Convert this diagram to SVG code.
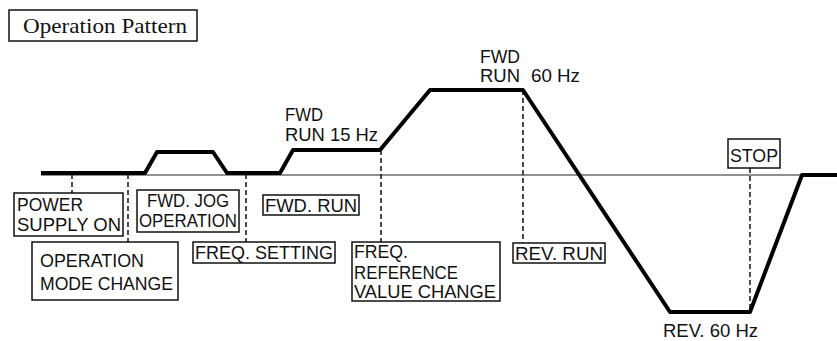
<svg xmlns="http://www.w3.org/2000/svg" width="837" height="341" viewBox="0 0 837 341">
<style>
.box{fill:#fff;stroke:#111;stroke-width:1.5}
.t{font-family:"Liberation Sans",Arial,sans-serif;font-size:19px;fill:#111}
.dash{stroke:#111;stroke-width:1.5;stroke-dasharray:5,3;fill:none}
.curve{stroke:#000;stroke-width:4;fill:none;stroke-linejoin:round}
.axis{stroke:#222;stroke-width:1.2}
</style>
<rect width="837" height="341" fill="#fff"/>
<g id="title">
<rect class="box" x="9" y="10" width="188" height="31"/>
<text x="23" y="33" font-family="'Liberation Serif','Times New Roman',serif" font-size="22" fill="#111" textLength="164" lengthAdjust="spacingAndGlyphs">Operation Pattern</text>
</g>
<g id="connectors">
<line class="axis" x1="41" y1="175" x2="837" y2="175"/>
<line class="dash" x1="72" y1="174" x2="72" y2="193"/>
<line class="dash" x1="128" y1="174" x2="128" y2="242"/>
<line class="dash" x1="246" y1="174" x2="246" y2="242"/>
<line class="dash" x1="381" y1="150" x2="381" y2="242"/>
<line class="dash" x1="523" y1="90" x2="523" y2="243"/>
<line class="dash" x1="750" y1="168" x2="750" y2="312"/>
<polyline class="curve" points="41,173 145,173 157,152 213,152 227,173 280,173 293,150 380,150 430,90 523,90 670,312 750,312 802,175 837,175"/>
</g>
<g id="power-supply-on">
<rect class="box" x="14" y="193" width="109" height="43"/>
<text class="t" x="17" y="211" textLength="66" lengthAdjust="spacingAndGlyphs">POWER</text>
<text class="t" x="17" y="231" textLength="104" lengthAdjust="spacingAndGlyphs">SUPPLY ON</text>
</g>
<g id="operation-mode-change">
<rect class="box" x="32" y="242" width="146" height="58"/>
<text class="t" x="40" y="267" textLength="104" lengthAdjust="spacingAndGlyphs">OPERATION</text>
<text class="t" x="40" y="290" textLength="133" lengthAdjust="spacingAndGlyphs">MODE CHANGE</text>
</g>
<g id="fwd-jog-operation">
<rect class="box" x="137" y="190" width="102" height="42"/>
<text class="t" x="147" y="207" textLength="82" lengthAdjust="spacingAndGlyphs">FWD. JOG</text>
<text class="t" x="139" y="227" textLength="98" lengthAdjust="spacingAndGlyphs">OPERATION</text>
</g>
<g id="freq-setting">
<rect class="box" x="193" y="242" width="142" height="21"/>
<text class="t" x="195" y="259" textLength="138" lengthAdjust="spacingAndGlyphs">FREQ. SETTING</text>
</g>
<g id="fwd-run">
<rect class="box" x="263" y="195" width="96" height="20"/>
<text class="t" x="265" y="212" textLength="92" lengthAdjust="spacingAndGlyphs">FWD. RUN</text>
</g>
<g id="fwd-run-15">
<text class="t" x="285" y="121" textLength="38" lengthAdjust="spacingAndGlyphs">FWD</text>
<text class="t" x="285" y="141" textLength="93" lengthAdjust="spacingAndGlyphs">RUN 15 Hz</text>
</g>
<g id="freq-reference-value-change">
<rect class="box" x="352" y="242" width="148" height="59"/>
<text class="t" x="354" y="258" textLength="54" lengthAdjust="spacingAndGlyphs">FREQ.</text>
<text class="t" x="354" y="279" textLength="104" lengthAdjust="spacingAndGlyphs">REFERENCE</text>
<text class="t" x="354" y="298" textLength="142" lengthAdjust="spacingAndGlyphs">VALUE CHANGE</text>
</g>
<g id="fwd-run-60">
<text class="t" x="480" y="63" textLength="40" lengthAdjust="spacingAndGlyphs">FWD</text>
<text class="t" x="480" y="82" textLength="40" lengthAdjust="spacingAndGlyphs">RUN</text>
<text class="t" x="531" y="82" textLength="49" lengthAdjust="spacingAndGlyphs">60 Hz</text>
</g>
<g id="rev-run">
<rect class="box" x="513" y="243" width="92" height="20"/>
<text class="t" x="515" y="260" textLength="88" lengthAdjust="spacingAndGlyphs">REV. RUN</text>
</g>
<g id="stop">
<rect class="box" x="728" y="139" width="52" height="29"/>
<text class="t" x="730" y="162" textLength="48" lengthAdjust="spacingAndGlyphs">STOP</text>
</g>
<g id="rev-60">
<text class="t" x="663" y="337" textLength="95" lengthAdjust="spacingAndGlyphs">REV. 60 Hz</text>
</g>
</svg>
